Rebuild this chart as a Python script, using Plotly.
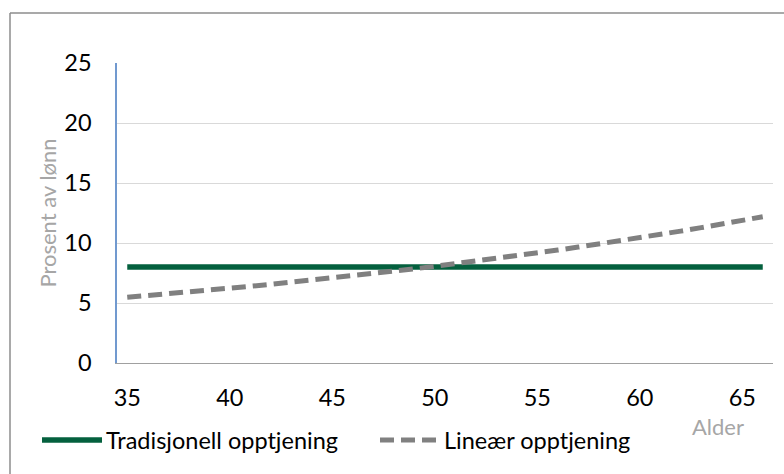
import plotly.graph_objects as go

ages = list(range(35, 67))
tradisjonell = [8.0] * len(ages)
linear = [5.47, 5.61, 5.76, 5.91, 6.07, 6.23, 6.39, 6.56, 6.73, 6.90,
          7.08, 7.27, 7.46, 7.65, 7.85, 8.06, 8.27, 8.49, 8.71, 8.94,
          9.17, 9.41, 9.66, 9.91, 10.17, 10.44, 10.71, 10.99, 11.28, 11.58,
          11.88, 12.19]
x_ticks = [35, 40, 45, 50, 55, 60, 65]
y_ticks = [0, 5, 10, 15, 20, 25]
series_names = ["Tradisjonell opptjening", "Lineær opptjening"]

GREEN = "#04603E"
GRAY = "#808080"
FONT = "Lato"
FS = 23.5

fig = go.Figure()
fig.add_trace(go.Scatter(x=ages, y=tradisjonell, mode="lines", name=series_names[0],
                         line=dict(color=GREEN, width=5.5), showlegend=False))
fig.add_trace(go.Scatter(x=ages, y=linear, mode="lines", name=series_names[1],
                         line=dict(color=GRAY, width=5, dash="14px,7px"), showlegend=False))

L, R, T, B = 117, 11, 63, 111
W, H = 784, 474
pw, ph = W - L - R, H - T - B

def px(xp):
    return (xp - L) / pw

def py(yp):
    return (H - B - yp) / ph

shapes = [
    # outer border
    dict(type="line", xref="paper", yref="paper", x0=px(10), x1=px(800), y0=py(13), y1=py(13),
         line=dict(color="#8C8C8C", width=1.5)),
    dict(type="line", xref="paper", yref="paper", x0=px(10), x1=px(10), y0=py(13), y1=py(490),
         line=dict(color="#8C8C8C", width=1.5)),
    # legend samples
    dict(type="line", xref="paper", yref="paper", x0=px(42), x1=px(102), y0=py(440), y1=py(440),
         line=dict(color=GREEN, width=5.5)),
    dict(type="line", xref="paper", yref="paper", x0=px(380), x1=px(440), y0=py(440), y1=py(440),
         line=dict(color=GRAY, width=5, dash="14px,7px")),
]

annotations = [
    dict(text=series_names[0], xref="paper", yref="paper", x=px(104), y=py(440),
         xanchor="left", yanchor="middle", showarrow=False,
         font=dict(family=FONT, size=FS, color="#000000")),
    dict(text=series_names[1], xref="paper", yref="paper", x=px(442), y=py(440),
         xanchor="left", yanchor="middle", showarrow=False,
         font=dict(family=FONT, size=FS, color="#000000")),
    dict(text="Alder", xref="paper", yref="paper", x=px(718), y=py(426),
         xanchor="center", yanchor="middle", showarrow=False,
         font=dict(family=FONT, size=22, color="#A6A6A6")),
]

fig.update_layout(
    width=W, height=H,
    margin=dict(l=L, r=R, t=T, b=B),
    paper_bgcolor="white", plot_bgcolor="white",
    font=dict(family=FONT, size=FS, color="#000000"),
    shapes=shapes, annotations=annotations,
    xaxis=dict(range=[34.5, 66.5], tickvals=x_ticks, showgrid=False, zeroline=False,
               showline=True, linecolor="#A0A0A0", linewidth=1.3, ticks="",
               ticklabelstandoff=14, tickfont=dict(family=FONT, size=FS, color="#000000")),
    yaxis=dict(range=[0, 25], tickvals=y_ticks, showgrid=True, gridcolor="#D9D9D9", gridwidth=1,
               zeroline=False, showline=True, linecolor="#7199CF", linewidth=1.5, ticks="",
               ticklabelstandoff=19, tickfont=dict(family=FONT, size=FS, color="#000000"),
               title=dict(text="Prosent av lønn", standoff=2,
                          font=dict(family=FONT, size=22, color="#A6A6A6"))),
)

fig.write_html("out.html")
